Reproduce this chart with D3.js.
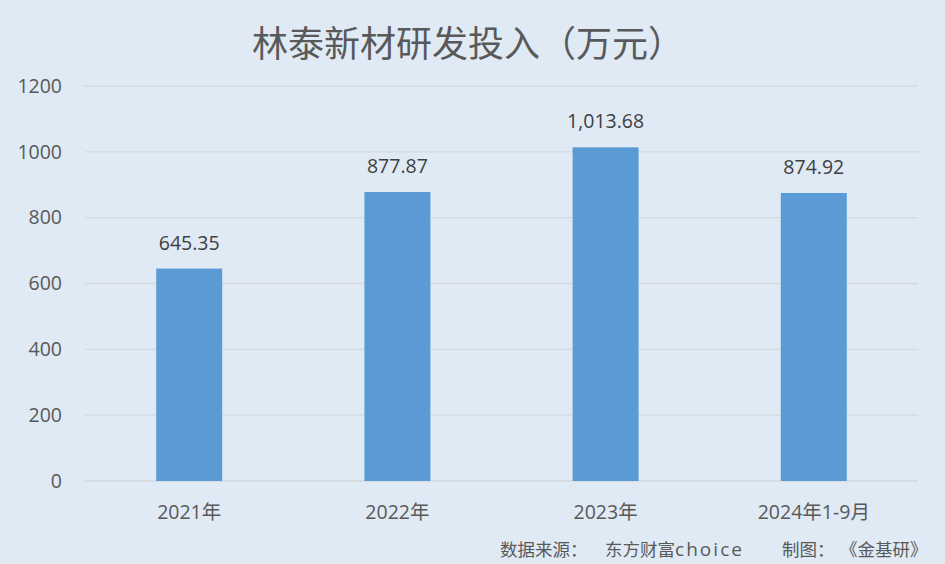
<!DOCTYPE html>
<html><head><meta charset="utf-8">
<script src="https://cdn.jsdelivr.net/npm/d3@7"></script>
<style>
html,body{margin:0;padding:0;background:#dfeaf5;}
svg{display:block;font-family:"Open Sans","Noto Sans CJK SC",sans-serif;}
</style></head>
<body>
<script>
const categories = ["2021年","2022年","2023年","2024年1-9月"];
const values = [645.35, 877.87, 1013.68, 874.92];
const valueLabels = ["645.35","877.87","1,013.68","874.92"];
const yTicks = [0,200,400,600,800,1000,1200];
const title = "林泰新材研发投入（万元）";
const sourceParts = ["数据来源：","东方财富","choice","制图：","《金基研》"];

const W=945,H=564;
const svg=d3.select("body").append("svg").attr("width",W).attr("height",H);
svg.append("rect").attr("width",W).attr("height",H).attr("fill","#dfeaf5");

const x=d3.scaleBand().domain(categories).range([85,918]).paddingInner(0.683).paddingOuter(0.342);
const y=d3.scaleLinear().domain([0,1200]).range([481,86]);

const g=svg.append("g");
g.selectAll("line.grid").data(yTicks).join("line")
 .attr("x1",85).attr("x2",918).attr("y1",d=>y(d)).attr("y2",d=>y(d))
 .attr("stroke","#d5d9de").attr("stroke-width",1.3);

const yAxis=d3.axisLeft(y).tickValues(yTicks).tickFormat(d3.format("d")).tickSize(0).tickPadding(0);
const ya=svg.append("g").attr("transform","translate(62,0)").call(yAxis);
ya.select(".domain").remove();
ya.selectAll("text").attr("fill","#595959").style("font-size","19.5px").style("font-family","'Open Sans',sans-serif");

g.selectAll("rect.bar").data(values).join("rect")
 .attr("x",(d,i)=>x(categories[i])).attr("width",x.bandwidth())
 .attr("y",d=>y(d)).attr("height",d=>y(0)-y(d)).attr("fill","#5b9bd5");

g.selectAll("text.val").data(values).join("text")
 .attr("x",(d,i)=>x(categories[i])+x.bandwidth()/2).attr("y",d=>y(d)-19)
 .attr("text-anchor","middle").attr("fill","#404040").style("font-size","19.5px")
 .text((d,i)=>valueLabels[i]);

const xAxis=d3.axisBottom(x).tickSize(0).tickPadding(0);
const xa=svg.append("g").attr("transform","translate(0,519)").call(xAxis);
xa.select(".domain").remove();
xa.selectAll("text").attr("fill","#595959").style("font-size","19.5px").style("font-family","'Open Sans','Noto Sans CJK SC',sans-serif").attr("dy","0");

svg.append("text").attr("x",468).attr("y",57).attr("text-anchor","middle")
 .attr("fill","#595959").style("font-size","36px").style("font-family","'Noto Sans CJK SC',sans-serif")
 .text(title);

const srcX=[500,605,675,782,840];
const src=svg.append("text").attr("y",556).attr("fill","#595959").style("font-size","17.5px")
 .style("font-family","'Open Sans','Noto Sans CJK SC',sans-serif");
src.selectAll("tspan").data(sourceParts).join("tspan").attr("x",(d,i)=>srcX[i])
 .each(function(d){ if(d==="choice"){ d3.select(this).style("font-size","19px").attr("textLength",67).attr("lengthAdjust","spacing"); } })
 .text(d=>d);
</script>
</body></html>
